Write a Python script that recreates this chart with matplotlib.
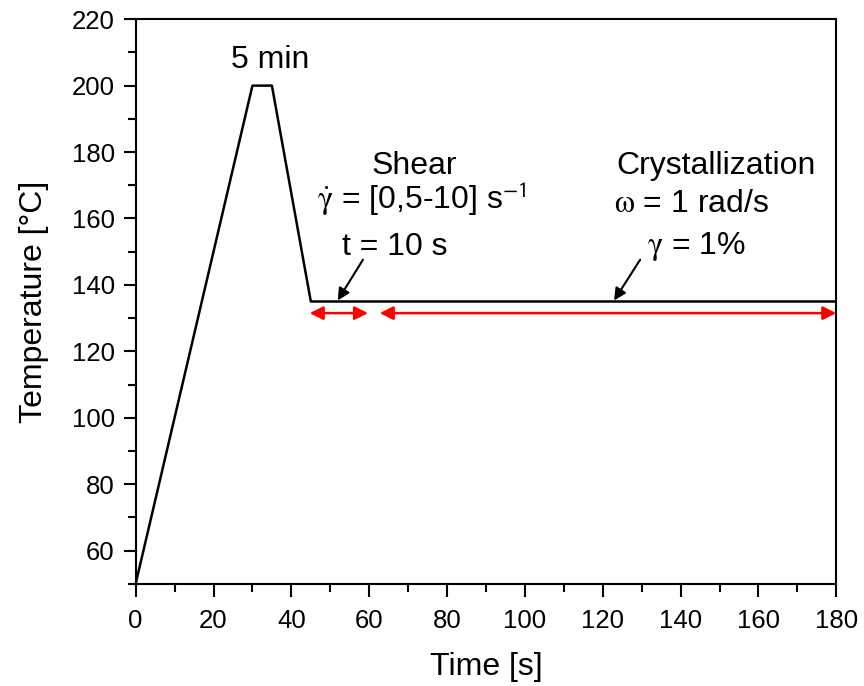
import matplotlib
matplotlib.use("Agg")
import matplotlib.pyplot as plt
from matplotlib.ticker import MultipleLocator

plt.rcParams['font.family'] = ['Liberation Sans', 'DejaVu Sans']
plt.rcParams['mathtext.fontset'] = 'stix'

# temperature protocol
time_s = [0, 30, 35, 45, 180]
temp_c = [50, 200, 200, 135, 135]

# red range arrows (start, end) at y
shear_range = (44.7, 59.7)
cryst_range = (62.7, 180)
range_y = 131.5

fig = plt.figure(figsize=(8.64, 6.86), dpi=100)
ax = fig.add_axes([0.157, 0.149, 0.811, 0.823])

ax.plot(time_s, temp_c, color='black', lw=1.8)

for a, b in [shear_range, cryst_range]:
    ax.annotate('', xy=(a, range_y), xytext=(b, range_y),
                arrowprops=dict(arrowstyle='<|-|>', color='red', lw=1.8,
                                mutation_scale=20, shrinkA=0, shrinkB=0))

# black pointer arrows
ax.annotate('', xy=(51.9, 135.3), xytext=(58.4, 147.6),
            arrowprops=dict(arrowstyle='-|>', color='black', lw=1.5,
                            mutation_scale=18, shrinkA=0, shrinkB=0))
ax.annotate('', xy=(122.9, 135.3), xytext=(129.6, 147.6),
            arrowprops=dict(arrowstyle='-|>', color='black', lw=1.5,
                            mutation_scale=18, shrinkA=0, shrinkB=0))

fs = 23
ax.text(34.5, 207.6, '5 min', ha='center', va='center', fontsize=fs)
ax.text(71.5, 175.8, 'Shear', ha='center', va='center', fontsize=fs)
ax.text(73.5, 166, r'$\mathrm{\dot{\gamma}}$' + ' = [0,5-10] s$^{\mathsf{-1}}$', ha='center', va='center', fontsize=fs)
ax.text(66.6, 151.5, 't = 10 s', ha='center', va='center', fontsize=fs)
ax.text(149, 175.8, 'Crystallization', ha='center', va='center', fontsize=fs)
ax.text(122.9, 164.3, r'$\mathrm{\omega}$' + ' = 1 rad/s', ha='left', va='center', fontsize=fs)
ax.text(144, 151.5, r'$\mathrm{\gamma}$' + ' = 1%', ha='center', va='center', fontsize=fs)

ax.set_xlim(0, 180)
ax.set_ylim(50, 220)
ax.xaxis.set_major_locator(MultipleLocator(20))
ax.xaxis.set_minor_locator(MultipleLocator(10))
ax.yaxis.set_major_locator(MultipleLocator(20))
ax.yaxis.set_minor_locator(MultipleLocator(10))
ax.tick_params(which='both', direction='out', top=False, right=False, labelsize=18.5, width=1.5)
ax.tick_params(which='major', length=9)
ax.tick_params(axis='x', which='major', pad=9)
ax.tick_params(axis='y', which='major', pad=6)
ax.tick_params(which='minor', length=6)
for s in ax.spines.values():
    s.set_linewidth(1.5)

ax.set_xlabel('Time [s]', fontsize=23, labelpad=14)
ax.set_ylabel('Temperature [°C]', fontsize=23, labelpad=16)

fig.savefig('out.png', dpi=100)
